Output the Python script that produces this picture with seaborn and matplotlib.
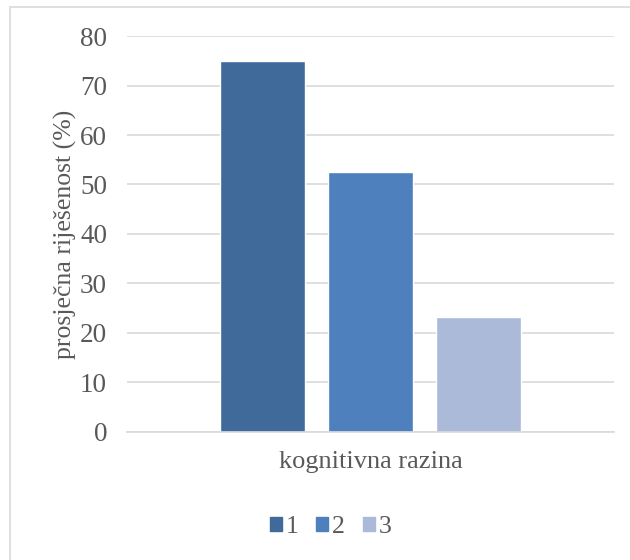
import matplotlib
matplotlib.use('Agg')
import matplotlib.pyplot as plt
import seaborn as sns
import pandas as pd
from matplotlib.patches import Rectangle

category = ['kognitivna razina']
levels = ['1', '2', '3']
values = [75.0, 52.6, 23.3]
colors = ['#3F6A9A', '#4D80BC', '#AABAD8']

data = pd.DataFrame({'kategorija': category * len(levels),
                     'razina': levels,
                     'rijesenost': values})

sns.set_style('white')
plt.rcParams['font.family'] = ['Liberation Serif', 'DejaVu Serif']
text_color = '#595959'
grid_color = '#D9D9D9'

fig = plt.figure(figsize=(6.3, 5.6), dpi=100)
ax = fig.add_axes([0.2016, 0.2286, 0.773, 0.7071])

sns.barplot(data=data, x='kategorija', y='rijesenost', hue='razina',
            palette=colors, width=0.665, gap=0.213, saturation=1,
            legend=False, ax=ax)

ax.set_ylim(0, 80)
ax.set_xlim(-0.5, 0.5)
ax.set_yticks(range(0, 81, 10))
ax.yaxis.grid(True, color=grid_color, linewidth=1.2)
ax.set_axisbelow(True)
for side in ['top', 'right', 'left']:
    ax.spines[side].set_visible(False)
ax.spines['bottom'].set_color(grid_color)
ax.spines['bottom'].set_linewidth(1.2)
ax.tick_params(axis='both', length=0, colors=text_color)
ax.tick_params(axis='y', pad=14.4, labelsize=19.5)
ax.tick_params(axis='x', pad=14, labelsize=19)
ax.set_xlabel('')
ax.set_ylabel('prosječna riješenost (%)', fontsize=18.5, color=text_color, labelpad=2)

handles = [Rectangle((0, 0), 1, 1, color=c) for c in colors]
fig.legend(handles, levels, loc='center', bbox_to_anchor=(0.525, 0.059),
           ncol=3, frameon=False, fontsize=18.5, handlelength=0.47,
           handleheight=0.47, handletextpad=0.15, columnspacing=0.7,
           labelcolor=text_color)

fig.patches.append(Rectangle((10 / 630, -0.1), 1.2, 0.9875 + 0.1,
                             transform=fig.transFigure, fill=False,
                             edgecolor=grid_color, linewidth=1.2))

fig.savefig('out.png', dpi=100)
